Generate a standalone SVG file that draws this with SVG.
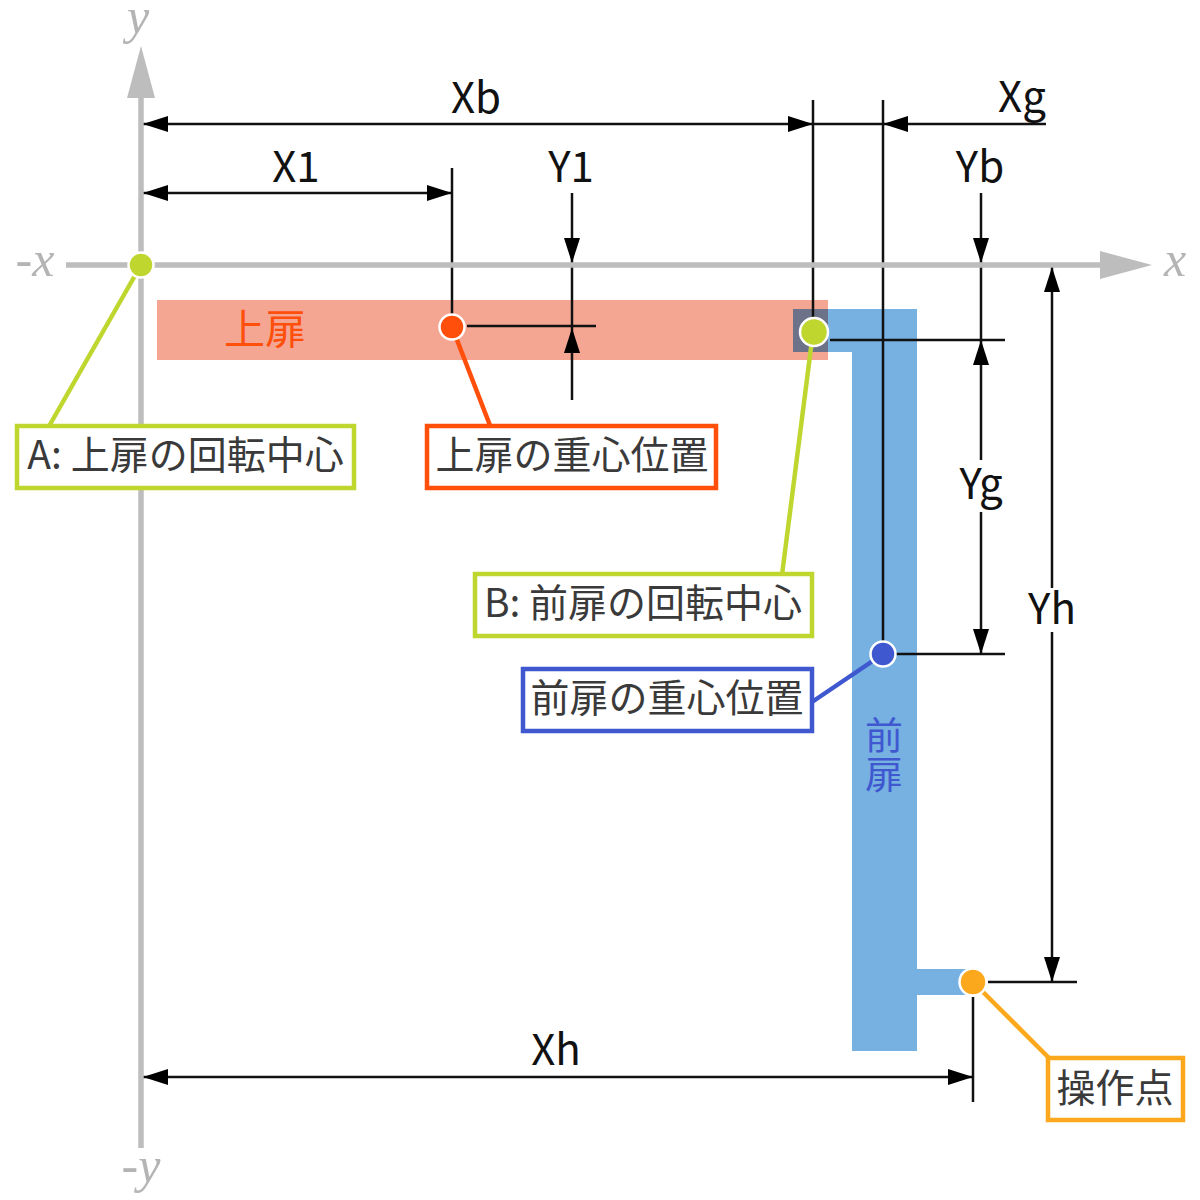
<svg xmlns="http://www.w3.org/2000/svg" width="1200" height="1200" viewBox="0 0 1200 1200">
<style>
text{font-family:"Noto Sans CJK JP","Noto Sans",sans-serif}
.dim{font-size:42px;fill:#111;text-anchor:middle}
.lab{font-size:39px;fill:#3a3a3a;text-anchor:middle}
.ax{font-family:"Liberation Serif",serif;font-style:italic;font-size:50px;fill:#b4b4b4;text-anchor:middle}
.d{stroke:#111;stroke-width:2.5;fill:none}
.box{fill:#fff;stroke-width:4.5}
.dot{stroke:#fff;stroke-width:2.5}
.ln{stroke-width:4.5;fill:none}
</style>
<defs>
<marker id="ah" markerUnits="userSpaceOnUse" markerWidth="26" markerHeight="16" refX="25" refY="8" orient="auto-start-reverse"><path d="M0 0L25 8L0 16z" fill="#000"/></marker>
</defs>
<g id="upper-door"><rect x="157" y="300" width="671" height="60" fill="#f4a693"/>
<text x="265" y="344" font-size="41" fill="#ff4f0a" text-anchor="middle">上扉</text></g>
<g id="front-door"><path d="M828 309H917V969H975V995H917V1051H852V352H828z" fill="#76b1e2"/>
<rect x="793" y="309" width="35" height="43" fill="#6c7389"/>
<text x="884" y="755" font-size="38" fill="#3f58d0" text-anchor="middle" style="writing-mode:vertical-rl;letter-spacing:1px">前扉</text></g>
<g id="connectors">
<path class="d" d="M813 100V320M883 100V645M452 168V318M467 326H596M830 340H1005M895 654H1005M988 982H1077M973 997V1102"/>
<path class="d" marker-start="url(#ah)" marker-end="url(#ah)" d="M143 124H813"/>
<path class="d" d="M813 124H883"/>
<path class="d" marker-start="url(#ah)" d="M883 124H1046"/>
<path class="d" marker-start="url(#ah)" marker-end="url(#ah)" d="M143 193H452"/>
<path class="d" marker-start="url(#ah)" marker-end="url(#ah)" d="M143 1077H973"/>
<path class="d" marker-end="url(#ah)" d="M572 193V263"/>
<path class="d" d="M572 263V328"/>
<path class="d" marker-start="url(#ah)" d="M572 328V400"/>
<path class="d" marker-end="url(#ah)" d="M981 193V263"/>
<path class="d" d="M981 263V340"/>
<path class="d" marker-start="url(#ah)" marker-end="url(#ah)" d="M981 340V654"/>
<path class="d" marker-start="url(#ah)" marker-end="url(#ah)" d="M1052 267V982"/>
<path class="ln" d="M141 265L48 428" stroke="#bfd62f"/>
<path class="ln" d="M452 327L491 428" stroke="#ff4f0a"/>
<path class="ln" d="M813 332L782 575" stroke="#bfd62f"/>
<path class="ln" d="M883 654L812 702" stroke="#3f58d0"/>
<path class="ln" d="M973 982L1049 1058" stroke="#fba81c"/>
</g>
<g id="axes">
<path d="M141 1148V90" stroke="#bdbdbd" stroke-width="5.5" fill="none"/>
<path d="M141 46L127 98H155z" fill="#bdbdbd"/>
<path d="M66 265H1105" stroke="#bdbdbd" stroke-width="5.5" fill="none"/>
<path d="M1152 265L1100 251V279z" fill="#bdbdbd"/>
<text class="ax" x="138" y="33">y</text>
<text class="ax" x="35" y="276">-x</text>
<text class="ax" x="1175" y="276">x</text>
<text class="ax" x="141" y="1182">-y</text>
</g>
<g id="dim-labels">
<text class="dim" x="476" y="113">Xb</text>
<text class="dim" x="296" y="182">X1</text>
<text class="dim" x="571" y="182">Y1</text>
<text class="dim" x="1022" y="112">Xg</text>
<text class="dim" x="980" y="182">Yb</text>
<rect x="955" y="460" width="52" height="52" fill="#fff"/>
<text class="dim" x="981" y="499">Yg</text>
<rect x="1026" y="588" width="52" height="44" fill="#fff"/>
<text class="dim" x="1052" y="624">Yh</text>
<text class="dim" x="556" y="1065">Xh</text>
</g>
<g id="node-a"><rect class="box" x="17" y="426" width="337" height="62" stroke="#bfd62f"/><text class="lab" x="185.500" y="469">A: 上扉の回転中心</text></g>
<g id="node-upper-cg"><rect class="box" x="427" y="426" width="289" height="62" stroke="#ff4f0a"/><text class="lab" x="572" y="469">上扉の重心位置</text></g>
<g id="node-b"><rect class="box" x="475" y="574" width="337" height="62" stroke="#bfd62f"/><text class="lab" x="643" y="617">B: 前扉の回転中心</text></g>
<g id="node-front-cg"><rect class="box" x="523" y="669" width="289" height="62" stroke="#3f58d0"/><text class="lab" x="667" y="712">前扉の重心位置</text></g>
<g id="node-handle"><rect class="box" x="1048" y="1058" width="135" height="62" stroke="#fba81c"/><text class="lab" x="1115" y="1102">操作点</text></g>
<g id="points">
<circle class="dot" cx="141" cy="265" r="12.5" fill="#bfd62f"/>
<circle class="dot" cx="452" cy="327" r="12.5" fill="#ff4f0a"/>
<circle class="dot" cx="814" cy="332" r="14" fill="#bfd62f"/>
<circle class="dot" cx="883" cy="654" r="12.5" fill="#3f58d0"/>
<circle class="dot" cx="973" cy="982" r="13.5" fill="#fba81c"/>
</g>
</svg>
